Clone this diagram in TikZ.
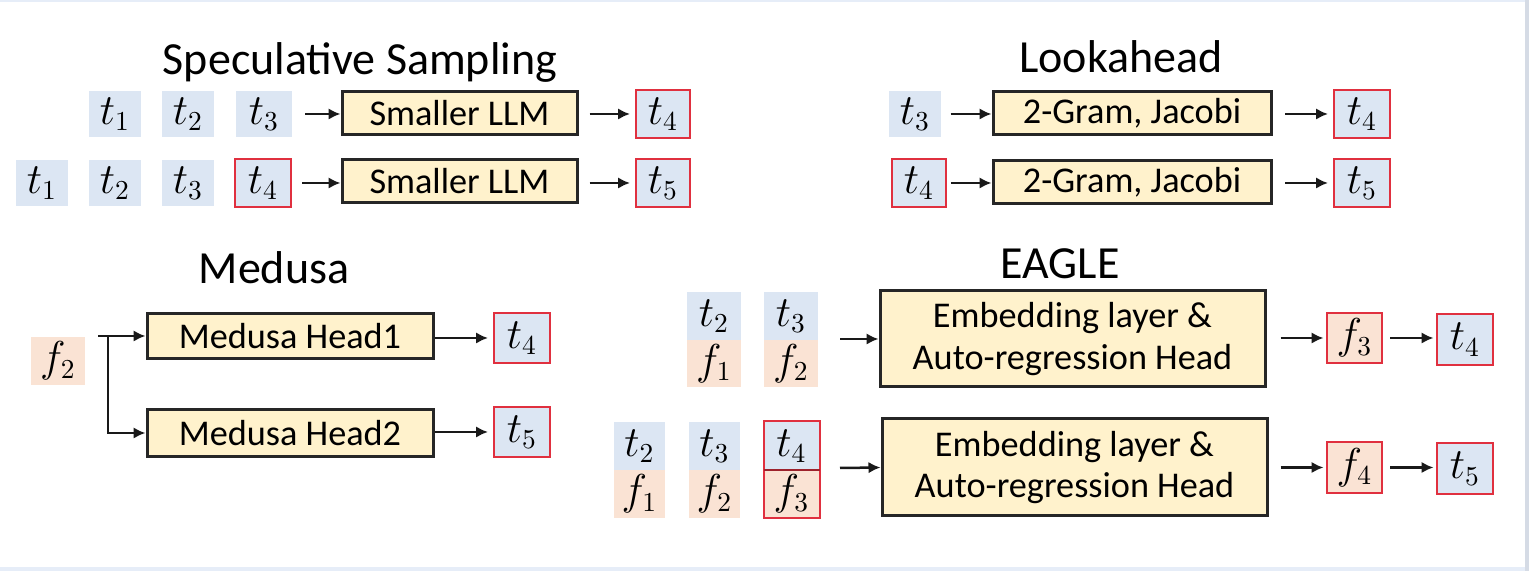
\documentclass[tikz,border=0pt]{standalone}
\usepackage{fontspec}
\setmainfont{Carlito}
\usetikzlibrary{arrows.meta}
\definecolor{tokblue}{HTML}{DCE6F3}
\definecolor{tokpeach}{HTML}{FAE3D4}
\definecolor{boxyellow}{HTML}{FFF2CC}
\definecolor{tokred}{HTML}{E0303F}
\definecolor{frametop}{HTML}{E6EDF8}
\definecolor{frameside}{HTML}{D5DBE5}
\tikzset{
  tok/.style={fill=tokblue, minimum width=52*0.4pt, minimum height=46*0.4pt, inner sep=0pt, font=\fontsize{16}{18}\selectfont},
  ftok/.style={tok, fill=tokpeach},
  redtok/.style={tok, draw=tokred, line width=0.8pt, minimum width=54*0.4pt, minimum height=48*0.4pt},
  redftok/.style={redtok, fill=tokpeach},
  blk/.style={fill=boxyellow, draw=black!85, line width=1.2pt, inner sep=0pt, align=center, font=\fontsize{14.5}{16.5}\selectfont},
  ttl/.style={font=\fontsize{18.4}{21}\selectfont, inner sep=0pt},
  arr/.style={-{Latex[length=4.8pt,width=4.6pt]}, line width=1pt, black!90},
}
\begin{document}
\begin{tikzpicture}[x=0.4pt,y=-0.4pt]
\useasboundingbox (0,0) rectangle (1529,571);
\fill[white] (0,0) rectangle (1529,571);
\fill[frametop] (0,0) rectangle (1529,2);
\fill[frametop] (0,567) rectangle (1529,571);
\fill[frameside] (1525,0) rectangle (1529,571);

% ---------------- Speculative Sampling
\node[ttl] (sst) at (360,62) {Speculative Sampling};
\node[tok] (s1a) at (115,114) {$t_1$};
\node[tok] (s1b) at (188,114) {$t_2$};
\node[tok, minimum width=56*0.4pt] (s1c) at (264,114) {$t_3$};
\node[blk, minimum width=235*0.4pt, minimum height=43*0.4pt] (sb1) at (459.5,113) {Smaller LLM};
\node[redtok] (s1o) at (663,114) {$t_4$};
\node[tok] (s2a) at (42,183) {$t_1$};
\node[tok] (s2b) at (115,183) {$t_2$};
\node[tok] (s2c) at (188,183) {$t_3$};
\node[redtok, minimum width=56*0.4pt] (s2d) at (263,183) {$t_4$};
\node[blk, minimum width=235*0.4pt, minimum height=43*0.4pt] (sb2) at (459.5,181) {Smaller LLM};
\node[redtok] (s2o) at (663,183) {$t_5$};
\draw[arr, shorten <=5pt] (s1c.east) -- (s1c.east -| sb1.west);
\draw[arr, shorten <=4pt] (s2d.east) -- (s2d.east -| sb2.west);
\draw[arr, shorten <=4.4pt, shorten >=2pt] (sb1.east |- s1o.west) -- (s1o.west);
\draw[arr, shorten <=4.4pt, shorten >=2pt] (sb2.east |- s2o.west) -- (s2o.west);

% ---------------- Lookahead
\node[ttl] (lat) at (1121,57) {Lookahead};
\node[tok] (l1a) at (915,114) {$t_3$};
\node[blk, minimum width=278*0.4pt, minimum height=43*0.4pt] (lb1) at (1132,113) {2-Gram, Jacobi};
\node[redtok, minimum width=56*0.4pt] (l1o) at (1362,114) {$t_4$};
\node[redtok] (l2a) at (919,183) {$t_4$};
\node[blk, minimum width=278*0.4pt, minimum height=43*0.4pt] (lb2) at (1132,182) {2-Gram, Jacobi};
\node[redtok, minimum width=56*0.4pt] (l2o) at (1362,183) {$t_5$};
\draw[arr, shorten <=3.6pt] (l1a.east) -- (l1a.east -| lb1.west);
\draw[arr, shorten <=1.5pt] (l2a.east) -- (l2a.east -| lb2.west);
\draw[arr, shorten <=5pt, shorten >=2pt] (lb1.east |- l1o.west) -- (l1o.west);
\draw[arr, shorten <=5pt, shorten >=2pt] (lb2.east |- l2o.west) -- (l2o.west);

% ---------------- Medusa
\node[ttl] (mdt) at (274,268) {Medusa};
\node[ftok, minimum width=54*0.4pt, minimum height=48*0.4pt] (mf) at (58,361) {$f_2$};
\node[blk, minimum width=286*0.4pt, minimum height=45*0.4pt] (mh1) at (290,336) {Medusa Head1};
\node[blk, minimum width=286*0.4pt, minimum height=47*0.4pt] (mh2) at (290,433) {Medusa Head2};
\node[redtok, minimum width=56*0.4pt, minimum height=50*0.4pt] (mo1) at (522,338) {$t_4$};
\node[redtok, minimum width=56*0.4pt, minimum height=50*0.4pt] (mo2) at (522,432) {$t_5$};
\coordinate (mbr) at (98,336);
\coordinate (mbv) at (108,336);
\draw[arr] (mbr) -- (mh1.west);
\draw[arr] (mbv) |- (mh2.west);
\draw[arr, shorten >=2pt] (mh1.east |- mo1.west) -- (mo1.west);
\draw[arr, shorten >=2pt] (mh2.east |- mo2.west) -- (mo2.west);

% ---------------- EAGLE
\node[ttl] (egt) at (1060,264) {EAGLE};
% row 1
\node[tok, minimum width=54*0.4pt, minimum height=48*0.4pt] (e1t2) at (714,316) {$t_2$};
\node[ftok, minimum width=54*0.4pt, minimum height=47*0.4pt] (e1f1) at (714,363.5) {$f_1$};
\node[tok, minimum width=54*0.4pt, minimum height=48*0.4pt] (e1t3) at (791,316) {$t_3$};
\node[ftok, minimum width=54*0.4pt, minimum height=47*0.4pt] (e1f2) at (791,363.5) {$f_2$};
\node[blk, minimum width=385*0.4pt, minimum height=96*0.4pt] (eb1) at (1072.5,339) {Embedding layer \&\\Auto-regression Head};
\node[redftok, minimum width=55*0.4pt, minimum height=50*0.4pt] (e1o1) at (1354.5,338) {$f_3$};
\node[redtok, minimum width=56*0.4pt, minimum height=51*0.4pt] (e1o2) at (1465,339.5) {$t_4$};
\coordinate (ea1) at (840,339);
\draw[arr] (ea1) -- (eb1.west);
\draw[arr, shorten <=5.6pt, shorten >=1pt] (eb1.east |- e1o1.west) -- (e1o1.west);
\draw[arr, shorten <=2.8pt, shorten >=1pt] (e1o1.east) -- (e1o1.east -| e1o2.west);
% row 2
\node[tok, minimum width=51*0.4pt, minimum height=48*0.4pt] (e2t2) at (639.5,446) {$t_2$};
\node[ftok, minimum width=51*0.4pt, minimum height=48*0.4pt] (e2f1) at (639.5,494) {$f_1$};
\node[tok, minimum width=51*0.4pt, minimum height=48*0.4pt] (e2t3) at (714.5,446) {$t_3$};
\node[ftok, minimum width=51*0.4pt, minimum height=48*0.4pt] (e2f2) at (714.5,494) {$f_2$};
\node[tok, minimum width=55*0.4pt, minimum height=48*0.4pt] (e2t4) at (791.5,446) {$t_4$};
\node[ftok, minimum width=55*0.4pt, minimum height=48*0.4pt] (e2f3) at (791.5,494) {$f_3$};
\draw[tokred, line width=0.8pt] (e2t4.north west) rectangle (e2f3.south east);
\draw[tokred!70!black, line width=0.8pt] (e2t4.south west) -- (e2t4.south east);
\node[blk, minimum width=385*0.4pt, minimum height=97*0.4pt] (eb2) at (1074.5,467.5) {Embedding layer \&\\Auto-regression Head};
\node[redftok, minimum width=55*0.4pt, minimum height=51*0.4pt] (e2o1) at (1354.5,467.5) {$f_4$};
\node[redtok, minimum width=56*0.4pt, minimum height=51*0.4pt] (e2o2) at (1465,468.5) {$t_5$};
\coordinate (ea2) at (840,468);
\draw[arr] (ea2) -- (eb2.west);
\draw[arr, shorten <=4.8pt, shorten >=1pt] (eb2.east |- e2o1.west) -- (e2o1.west);
\draw[arr, shorten <=2.8pt, shorten >=1pt] (e2o1.east) -- (e2o1.east -| e2o2.west);
\end{tikzpicture}
\end{document}
